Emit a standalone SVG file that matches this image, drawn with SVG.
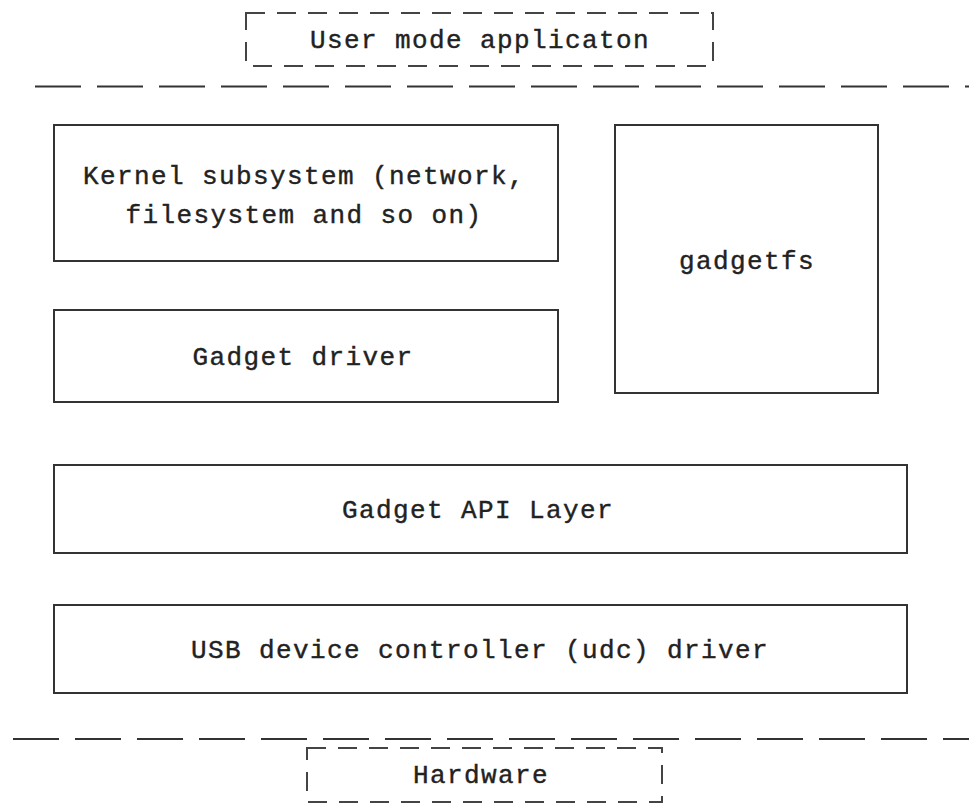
<svg xmlns="http://www.w3.org/2000/svg" width="969" height="804" viewBox="0 0 969 804">
<style>
.box{fill:#fff;stroke:#333;stroke-width:2}
.dbox{fill:none;stroke:#444;stroke-width:2;stroke-dasharray:19 12}
.sep{stroke:#333;stroke-width:2.2;stroke-dasharray:46 16;fill:none}
.t{font-family:"Liberation Mono","DejaVu Sans Mono",monospace;font-size:26px;letter-spacing:1.4px;fill:#222;stroke:#222;stroke-width:0.4;text-anchor:middle}
</style>
<rect width="969" height="804" fill="#fff"/>
<g id="separators">
<line class="sep" x1="35" y1="86.5" x2="969" y2="86.5"/>
<line class="sep" x1="13" y1="739" x2="969" y2="739"/>
</g>
<g id="user-mode">
<rect class="dbox" x="246" y="13" width="467" height="53"/>
<text class="t" x="480" y="48">User mode applicaton</text>
</g>
<g id="kernel-subsystem">
<rect class="box" x="54" y="125" width="504" height="136"/>
<text class="t" x="304" y="184">Kernel subsystem (network,</text>
<text class="t" x="304" y="223">filesystem and so on)</text>
</g>
<g id="gadgetfs">
<rect class="box" x="615" y="125" width="263" height="268"/>
<text class="t" x="747" y="269">gadgetfs</text>
</g>
<g id="gadget-driver">
<rect class="box" x="54" y="310" width="504" height="92"/>
<text class="t" x="303" y="365">Gadget driver</text>
</g>
<g id="gadget-api">
<rect class="box" x="54" y="465" width="853" height="88"/>
<text class="t" x="478" y="518">Gadget API Layer</text>
</g>
<g id="udc-driver">
<rect class="box" x="54" y="605" width="853" height="88"/>
<text class="t" x="480" y="658">USB device controller (udc) driver</text>
</g>
<g id="hardware">
<rect class="dbox" x="307" y="748" width="355" height="54"/>
<text class="t" x="481" y="783">Hardware</text>
</g>
<g id="connectors"></g>
</svg>
